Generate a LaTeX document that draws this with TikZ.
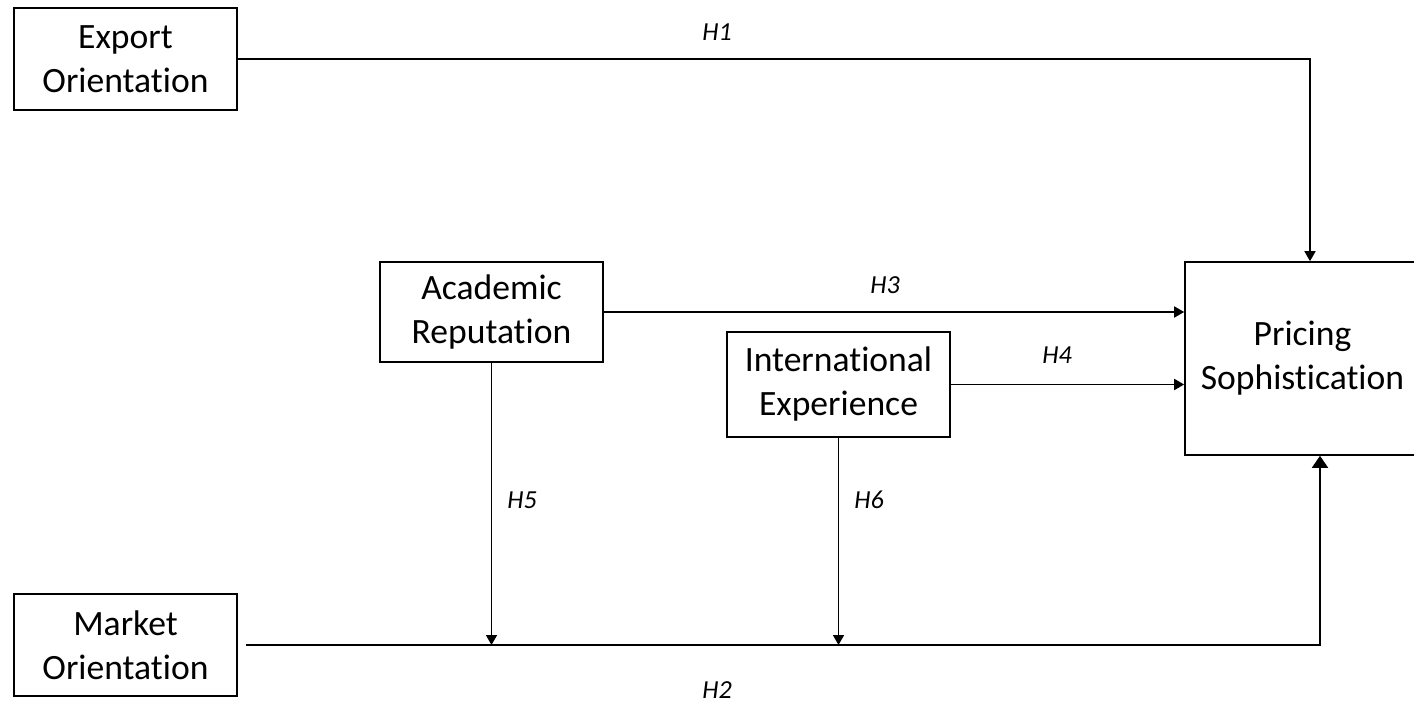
\documentclass[tikz,border=0pt]{standalone}
\usepackage{fontspec}
\setmainfont[Ligatures=NoCommon]{Carlito}
\usetikzlibrary{arrows.meta,calc}
\tikzset{pin/.style={-{Triangle[length=5pt,width=5.5pt]}},
  bigpin/.style={-{Triangle[length=6pt,width=8pt]}},
  blk/.style={draw, line width=0.8pt, minimum width=111.5pt, inner sep=0pt, align=center,
    font=\fontsize{17.8}{22}\selectfont},
  hyp/.style={font=\fontsize{13}{15}\selectfont\itshape}}

\begin{document}
\begin{tikzpicture}[x=0.5pt, y=-0.5pt, line width=0.8pt]
  \useasboundingbox (0,0) rectangle (1414,705);
  \node[blk, minimum height=51pt] (eo) at (125.5,59) {Export\\Orientation};
  \node[blk, minimum height=51pt] (mo) at (125.5,645) {Market\\Orientation};
  \node[blk, minimum height=50pt] (ar) at (491.5,312) {Academic\\Reputation};
  \node[blk, minimum height=52.5pt] (ie) at (838.5,384.5) {International\\Experience};
  \node[blk, minimum width=117.5pt, minimum height=96.5pt] (ps) at (1302.5,358.5) {Pricing\\Sophistication};
  \coordinate (ps top) at ($(ps.north)+(3.75pt,0)$);
  \coordinate (ps bot) at ($(ps.south)+(8.75pt,0)$);
  \coordinate (mo out) at ($(mo.east)+(4pt,0)$);
  \draw[pin] (eo.east) -| (ps top);
  \draw[bigpin] (mo out) -| (ps bot);
  \draw[pin] (ar.east) -- (ar.east -| ps.west);
  \draw[pin] (ie.east) -- (ie.east -| ps.west);
  \draw[pin] (ar.south) -- (ar.south |- mo out);
  \draw[pin] (ie.south) -- (ie.south |- mo out);
  \node[hyp] (h1) at (717,32) {H1};
  \node[hyp] (h2) at (717,690) {H2};
  \node[hyp] (h3) at (885,285) {H3};
  \node[hyp] (h4) at (1057,355) {H4};
  \node[hyp] (h5) at (522,500) {H5};
  \node[hyp] (h6) at (869,500) {H6};
\end{tikzpicture}
\end{document}
